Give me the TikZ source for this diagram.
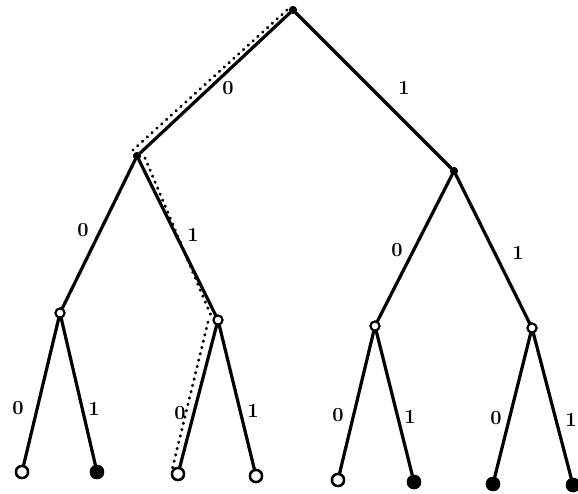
\documentclass[tikz,border=0pt]{standalone}
\begin{document}
\begin{tikzpicture}[x=1pt,y=-1pt,
  edge/.style={line width=3.2pt,line cap=round},
  inner/.style={circle,fill=black,inner sep=0pt,minimum size=8pt},
  open/.style={circle,draw=black,line width=2pt,fill=white,inner sep=0pt,minimum size=9pt},
  leafo/.style={circle,draw=black,line width=2.4pt,fill=white,inner sep=0pt,minimum size=12pt},
  leaff/.style={circle,draw=black,line width=2.4pt,fill=black,inner sep=0pt,minimum size=12pt},
  lab/.style={font=\fontsize{20}{20}\selectfont\bfseries,inner sep=0pt},
  trail/.style={line width=3pt,dash pattern=on 0.5pt off 6pt,line cap=round}]
\useasboundingbox (0,0) rectangle (578,494);
\fill[white] (0,0) rectangle (578,494);
% nodes
\node[inner] (r) at (293,10) {};
\node[inner] (a) at (137,156) {};
\node[inner] (b) at (454,171) {};
\node[open] (aa) at (60,313) {};
\node[open] (ab) at (218,320) {};
\node[open] (ba) at (375,326) {};
\node[open] (bb) at (532,328) {};
\node[leafo] (l1) at (22,472) {};
\node[leaff] (l2) at (97,472) {};
\node[leafo] (l3) at (178,474) {};
\node[leafo] (l4) at (256,476) {};
\node[leafo] (l5) at (338,480) {};
\node[leaff] (l6) at (414,482) {};
\node[leaff] (l7) at (493,484) {};
\node[leaff] (l8) at (573,485) {};
% edges
\draw[edge] (r) -- (a);
\draw[edge] (r) -- (b);
\draw[edge] (a) -- (aa);
\draw[edge] (a) -- (ab);
\draw[edge] (b) -- (ba);
\draw[edge] (b) -- (bb);
\draw[edge] (aa) -- (l1);
\draw[edge] (aa) -- (l2);
\draw[edge] (ab) -- (l3);
\draw[edge] (ab) -- (l4);
\draw[edge] (ba) -- (l5);
\draw[edge] (ba) -- (l6);
\draw[edge] (bb) -- (l7);
\draw[edge] (bb) -- (l8);
% redraw nodes on top of edges
\node[inner] at (r) {};
\node[inner] at (a) {};
\node[inner] at (b) {};
\node[open] at (aa) {};
\node[open] at (ab) {};
\node[open] at (ba) {};
\node[open] at (bb) {};
\node[leafo] at (l1) {};
\node[leaff] at (l2) {};
\node[leafo] at (l3) {};
\node[leafo] at (l4) {};
\node[leafo] at (l5) {};
\node[leaff] at (l6) {};
\node[leaff] at (l7) {};
\node[leaff] at (l8) {};
% dotted trail beside the chosen path
\coordinate (t0) at (287,10);
\coordinate (t1) at (133,150);
\coordinate (t2) at (145,158);
\coordinate (t3) at (212,318);
\coordinate (t4) at (208,322);
\coordinate (t5) at (172,470);
\draw[trail] (t0) -- (t1);
\draw[trail] (t2) -- (t3);
\draw[trail] (t4) -- (t5);
% labels
\node[lab] (e1) at (228,88) {0};
\node[lab] (e2) at (404,88) {1};
\node[lab] (e3) at (83,230) {0};
\node[lab] (e4) at (193,235) {1};
\node[lab] (e5) at (397,250) {0};
\node[lab] (e6) at (518,253) {1};
\node[lab] (e7) at (18,408) {0};
\node[lab] (e8) at (94,409) {1};
\node[lab] (e9) at (180,413) {0};
\node[lab] (e10) at (253,411) {1};
\node[lab] (e11) at (338,415) {0};
\node[lab] (e12) at (410,417) {1};
\node[lab] (e13) at (496,418) {0};
\node[lab] (e14) at (571,420) {1};
\end{tikzpicture}
\end{document}
